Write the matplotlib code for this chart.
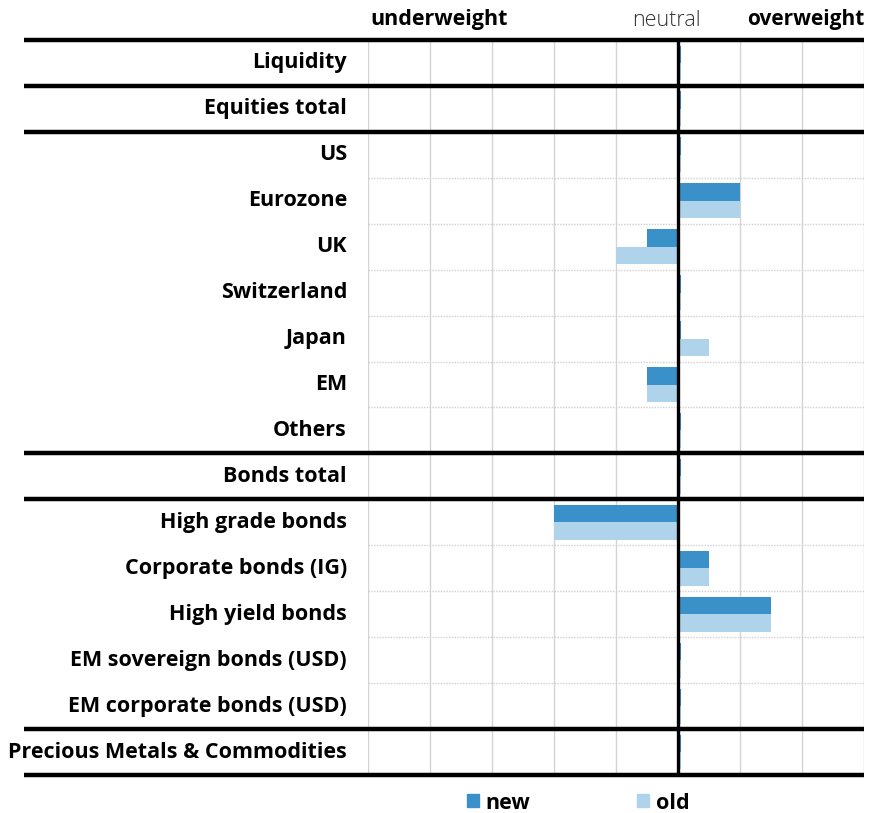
import numpy as np
import matplotlib
matplotlib.use("Agg")
import matplotlib.pyplot as plt
from matplotlib.patches import Patch

plt.rcParams["font.family"] = ["Open Sans", "DejaVu Sans"]

categories = [
    "Liquidity", "Equities total", "US", "Eurozone", "UK", "Switzerland",
    "Japan", "EM", "Others", "Bonds total", "High grade bonds",
    "Corporate bonds (IG)", "High yield bonds", "EM sovereign bonds (USD)",
    "EM corporate bonds (USD)", "Precious Metals & Commodities",
]
new = [0, 0, 0, 1, -0.5, 0, 0, -0.5, 0, 0, -2, 0.5, 1.5, 0, 0, 0]
old = [0, 0, 0, 1, -1, 0, 0.5, -0.5, 0, 0, -2, 0.5, 1.5, 0, 0, 0]

# rows followed by a heavy rule (section breaks)
section_breaks = [0, 1, 8, 9, 14]

C_NEW = "#3a91c9"
C_OLD = "#afd3ea"
W, H = 886, 813
FS = 15.5

fig = plt.figure(figsize=(W / 100, H / 100), dpi=100)
ax = fig.add_axes([368 / W, 1 - 775 / H, (864 - 368) / W, (775 - 40) / H])

n = len(categories)
y = np.arange(n)
# neutral positions are shown as a thin stub
stub = 0.05
new_d = [v if v != 0 else stub for v in new]
old_d = [v if v != 0 else stub for v in old]

bh = 0.38
ax.barh(y - bh / 2, new_d, height=bh, color=C_NEW, zorder=2)
ax.barh(y + bh / 2, old_d, height=bh, color=C_OLD, zorder=2)

ax.set_xlim(-5, 3)
ax.set_ylim(n - 0.5, -0.5)
for x in range(-5, 4):
    ax.axvline(x, color="#d4d4d4", lw=1, zorder=1)
ax.axvline(0, color="black", lw=2.4, zorder=3)

for sp in ax.spines.values():
    sp.set_visible(False)
ax.set_xticks([])
ax.set_yticks([])

trans = ax.get_yaxis_transform()
left = (24 - 368) / (864 - 368)
for b in [-1] + section_breaks + [n - 1]:
    ax.plot([left, 1], [b + 0.5, b + 0.5], color="black", lw=3.2,
            transform=trans, clip_on=False, zorder=4, solid_capstyle="butt")
for b in range(n - 1):
    if b not in section_breaks:
        ax.axhline(b + 0.5, color="#d0d0d0", lw=1, ls=(0, (1, 1)), zorder=1)

lab_x = (347 - 368) / (864 - 368)
for i, name in enumerate(categories):
    ax.text(lab_x, i, name, transform=trans, ha="right", va="center",
            fontsize=FS, fontweight="bold")

# header
fig.text(370 / W, 1 - 20 / H, "underweight", ha="left", va="center",
         fontsize=15.5, fontweight="bold")
fig.text(666 / W, 1 - 20 / H, "neutral", ha="center", va="center",
         fontsize=15.5, color="#333333", fontweight="light")
fig.text(864 / W, 1 - 20 / H, "overweight", ha="right", va="center",
         fontsize=15, fontweight="bold")

handles = [Patch(color=C_NEW, label="new"), Patch(color=C_OLD, label="old")]
leg = fig.legend(handles=handles, ncol=2, loc="center",
                 bbox_to_anchor=(578 / W, 1 - 803 / H), frameon=False,
                 handlelength=0.55, handleheight=0.55, handletextpad=0.3,
                 columnspacing=5.0, prop={"size": FS, "weight": "bold"})

fig.savefig("out.png", dpi=100)
